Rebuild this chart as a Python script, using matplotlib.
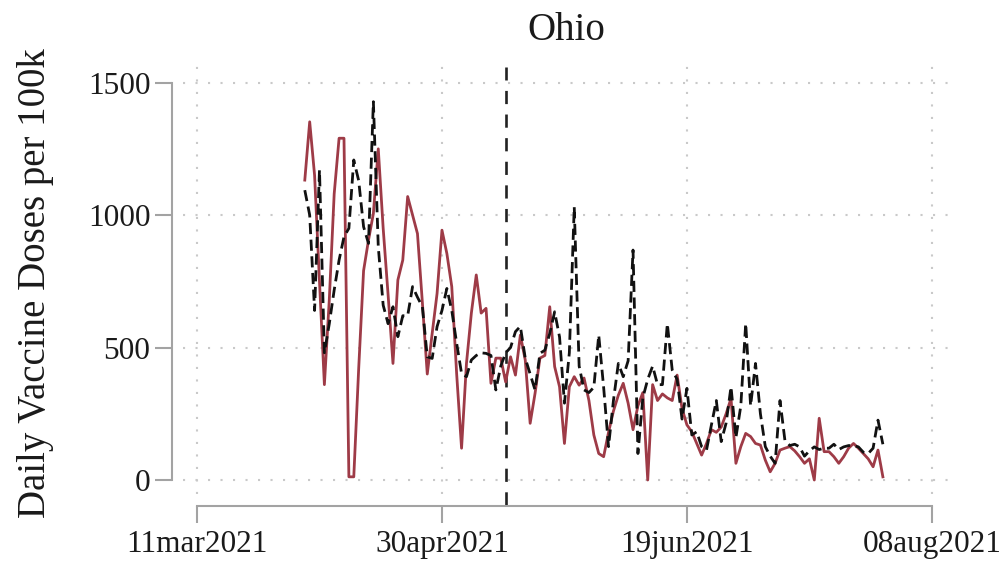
import matplotlib
matplotlib.use("Agg")
import matplotlib.pyplot as plt
import matplotlib.dates as mdates
import pandas as pd

plt.rcParams['font.family'] = ['Liberation Serif', 'DejaVu Serif']
plt.rcParams['lines.scale_dashes'] = False

# ---------------- data ----------------
start_date = '2021-04-02'
end_date = '2021-07-29'

ohio_doses = [
    1132, 1352, 1150, 750, 360, 680, 1080, 1290, 1290, 12,
    12, 420, 790, 905, 1006, 1250, 950, 700, 440, 755,
    830, 1070, 1000, 930, 670, 400, 553, 704, 943, 855,
    730, 400, 120, 440, 630, 774, 630, 648, 365, 460,
    460, 370, 465, 396, 547, 453, 214, 327, 460, 470,
    654, 428, 352, 138, 352, 390, 358, 385, 300, 170,
    100, 88, 180, 260, 320, 365, 290, 190, 280, 330,
    0, 360, 300, 325, 310, 300, 396, 270, 208, 182,
    138, 94, 138, 190, 180, 200, 250, 308, 63, 126,
    176, 164, 138, 132, 75, 31, 63, 113, 120, 126,
    110, 88, 63, 80, 0, 233, 107, 107, 88, 63,
    88, 120, 138, 120, 100, 80, 50, 113, 12,
]

synthetic_doses = [
    1094, 1000, 640, 1170, 480, 590, 717, 830, 918, 950,
    1208, 1130, 956, 893, 1428, 880, 660, 590, 654, 541,
    620, 620, 730, 690, 654, 465, 459, 579, 640, 723,
    640, 516, 402, 390, 453, 470, 480, 478, 470, 340,
    430, 480, 500, 560, 580, 460, 400, 340, 478, 490,
    553, 635, 540, 290, 480, 1031, 430, 340, 330, 350,
    547, 350, 126, 300, 440, 390, 450, 868, 100, 310,
    380, 430, 360, 360, 590, 415, 380, 230, 346, 170,
    182, 126, 113, 208, 300, 145, 215, 352, 160, 280,
    591, 280, 440, 250, 126, 90, 63, 300, 150, 130,
    135, 125, 90, 110, 125, 115, 120, 120, 135, 115,
    125, 130, 130, 125, 105, 100, 120, 226, 135,
]

policy_date = '2021-05-13'
xtick_dates = ['2021-03-11', '2021-04-30', '2021-06-19', '2021-08-08']
xtick_labels = ['11mar2021', '30apr2021', '19jun2021', '08aug2021']
ytick_values = [0, 500, 1000, 1500]
title_text = 'Ohio'
ylabel_text = 'Daily Vaccine Doses per 100k'

# ---------------- figure ----------------
W, H = 1003, 570
fig = plt.figure(figsize=(W / 100, H / 100), dpi=100)
L, R, T, B = 183, 950, 63, 494
ax = fig.add_axes([L / W, 1 - B / H, (R - L) / W, (B - T) / H])

dates = pd.date_range(start_date, end_date, freq='D')
xt = pd.to_datetime(xtick_dates)
x0 = mdates.date2num(xt[0])
x1 = mdates.date2num(xt[-1])

red = '#9e3b47'
txt = '#1a1a1a'
axis_grey = '#a3a3a3'

ax.plot(dates, ohio_doses, color=red, lw=2.0, solid_joinstyle='round', zorder=3)
ax.plot(dates, synthetic_doses, color='#111111', lw=2.0, dashes=(8, 4),
        dash_joinstyle='round', zorder=4)

ax.axvline(pd.Timestamp(policy_date), ymin=(B - 505) / (B - T), ymax=(B - 67) / (B - T),
           color='#222222', lw=1.9, dashes=(9.5, 7.5), clip_on=False, zorder=2)

ax.set_xlim(x0 - 2.86, x0 + 153.7)
ax.set_ylim(-52.8, 1574)

ax.set_xticks(xt)
ax.set_xticklabels(xtick_labels)
ax.set_yticks(ytick_values)
ax.set_yticklabels([str(v) for v in ytick_values])

ax.grid(True, color='#c9c9c9', lw=1.5, linestyle=(0, (1.5, 7.5)), zorder=0)
ax.set_axisbelow(True)

for s in ['top', 'right']:
    ax.spines[s].set_visible(False)
ax.spines['left'].set_position(('outward', 8))
ax.spines['left'].set_bounds(0, 1500)
ax.spines['bottom'].set_position(('outward', 8.6))
ax.spines['bottom'].set_bounds(x0, x1)
for s in ['left', 'bottom']:
    ax.spines[s].set_color(axis_grey)
    ax.spines[s].set_linewidth(1.5)

ax.tick_params(axis='both', length=12, width=1.5, color=axis_grey,
               labelsize=22.5, labelcolor=txt)
ax.tick_params(axis='y', pad=3.5)
ax.tick_params(axis='x', pad=5)

fig.text(566 / W, 1 - 40 / H, title_text, ha='center', va='baseline',
         fontsize=28, color=txt)
fig.text(36 / W, 1 - 283 / H, ylabel_text, ha='center', va='center',
         rotation=90, fontsize=28, color=txt)

fig.savefig('out.png', dpi=100)
